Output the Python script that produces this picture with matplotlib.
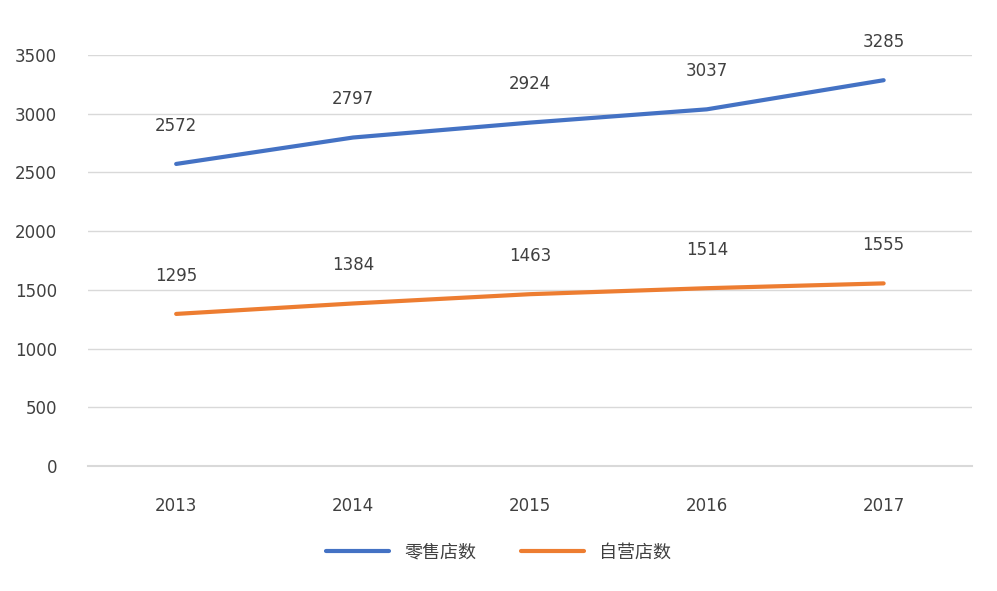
import matplotlib
matplotlib.use("Agg")
import matplotlib.pyplot as plt

plt.rcParams['font.family'] = ['DejaVu Sans', 'Noto Sans CJK SC']

years = ["2013", "2014", "2015", "2016", "2017"]
retail = [2572, 2797, 2924, 3037, 3285]
selfrun = [1295, 1384, 1463, 1514, 1555]
yticks = [0, 500, 1000, 1500, 2000, 2500, 3000, 3500]

fig = plt.figure(figsize=(9.97, 5.91), dpi=100)
ax = fig.add_axes([0.088, 0.2115, 0.887, 0.6955])
x = list(range(len(years)))
ax.plot(x, retail, color='#4472C4', lw=3, label='零售店数', solid_capstyle='round')
ax.plot(x, selfrun, color='#ED7D31', lw=3, label='自营店数', solid_capstyle='round')
for xi, v in zip(x, retail):
    ax.annotate(str(v), (xi, v), xytext=(0, 24), textcoords='offset points', ha='center', fontsize=12, color='#404040')
for xi, v in zip(x, selfrun):
    ax.annotate(str(v), (xi, v), xytext=(0, 24), textcoords='offset points', ha='center', fontsize=12, color='#404040')
ax.set_xlim(-0.5, 4.5)
ax.set_ylim(0, 3500)
ax.set_yticks(yticks)
ax.set_xticks(x)
ax.set_xticklabels(years)
ax.grid(axis='y', color='#d9d9d9', lw=1)
ax.axhline(0, color='#d9d9d9', lw=1.5, clip_on=False, zorder=0)
ax.set_axisbelow(True)
for s in ax.spines.values():
    s.set_visible(False)
ax.tick_params(length=0, labelsize=12, colors='#404040')
ax.tick_params(axis='x', pad=22)
ax.tick_params(axis='y', pad=22)
fig.legend(loc='center', bbox_to_anchor=(0.5, 0.065), ncol=2, frameon=False,
           handlelength=3.5, columnspacing=2.5,
           labelcolor='#404040', prop={'family': ['Noto Sans CJK SC'], 'size': 13})
fig.savefig('out.png')
